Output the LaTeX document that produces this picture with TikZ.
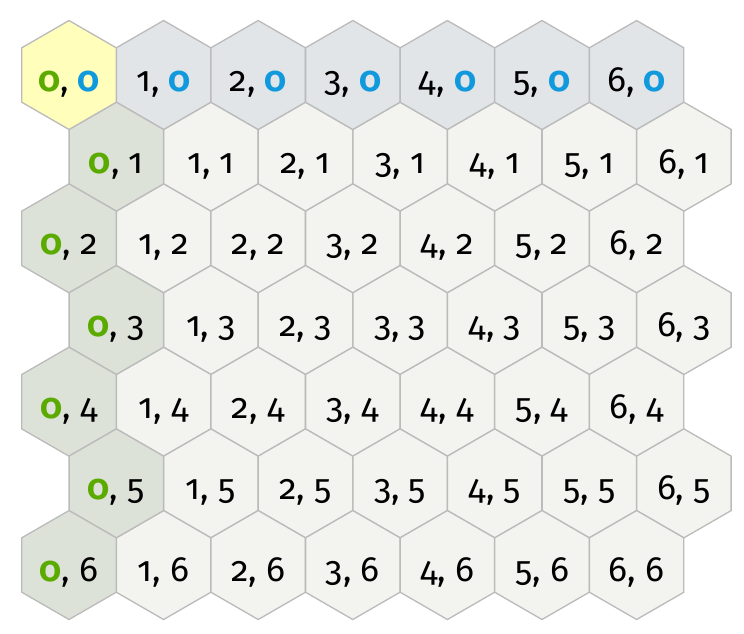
\documentclass[tikz,border=0pt]{standalone}
\usepackage{fontspec}
\setmainfont{Fira Sans}[Numbers=OldStyle]
\usetikzlibrary{shapes.geometric}
\definecolor{hexline}{HTML}{BBBBBB}
\definecolor{cellfill}{HTML}{F3F3EF}
\definecolor{rowfill}{HTML}{E1E5E8}
\definecolor{colfill}{HTML}{DDE2D9}
\definecolor{originfill}{HTML}{FFFFBB}
\definecolor{qgreen}{HTML}{5BAA00}
\definecolor{rblue}{HTML}{1199DD}
\newcommand{\qzero}{\textcolor{qgreen}{\bfseries 0}}
\newcommand{\rzero}{\textcolor{rblue}{\bfseries 0}}
\tikzset{
  hex/.style={draw=hexline, line width=0.75pt, fill=cellfill,
    regular polygon, regular polygon sides=6, shape border rotate=30,
    minimum size=2.18cm, inner sep=0pt, text height=0.66cm, text depth=0cm,
    font=\fontsize{20}{24}\selectfont}
}
\begin{document}
\begin{tikzpicture}[x=0.02cm, y=-0.02cm]
    \useasboundingbox (0,0) rectangle (744,633);
    % inner cells
    \foreach \r in {1,...,6}
      \foreach \c in {1,...,6}
        \node [hex] (h\c-\r) at ({69+94.6*\c+47.3*mod(\r,2)}, {75+81.67*\r}) {\c, \r};
    % top row
    \foreach \c in {1,...,6}
      \node [hex, fill=rowfill] (h\c-0) at ({69+94.6*\c}, 75) {\c, \rzero};
    % left column
    \foreach \r in {1,...,6}
      \node [hex, fill=colfill] (h0-\r) at ({69+47.3*mod(\r,2)}, {75+81.67*\r}) {\qzero, \r};
    \node [hex, fill=originfill] (h0-0) at (69,75) {\qzero, \rzero};
\end{tikzpicture}
\end{document}
